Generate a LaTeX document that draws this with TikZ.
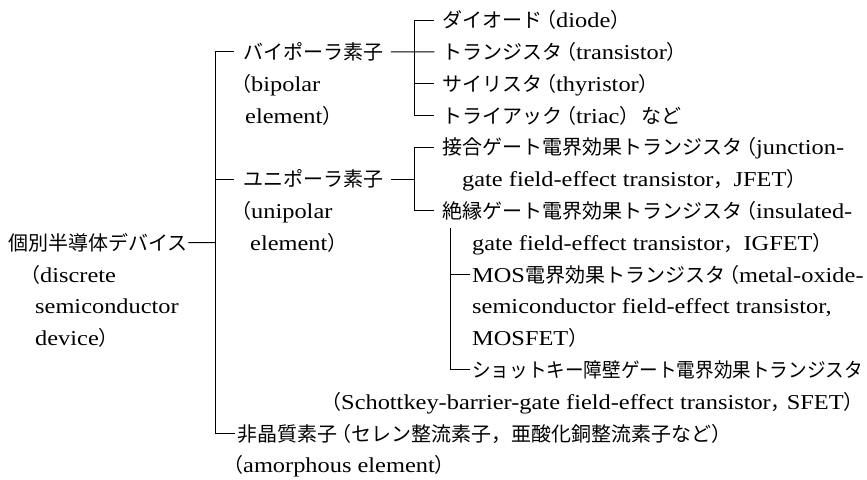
\documentclass[tikz,border=0pt]{standalone}
\usepackage{fontspec}
\setmainfont{Liberation Serif}[Scale=1.06,FakeStretch=1.15]
\newfontfamily\jpf{Noto Sans CJK JP}
\newfontfamily\jpn{Noto Sans CJK JP}[FakeStretch=0.93]
\newcommand\J[1]{{\jpf #1}}
\newcommand\Jn[1]{{\jpn #1}}
\newcommand\lp{{\jpf\kern-0.3em （}}
\newcommand\rpend{{\jpf ）\kern-0.6em}}
% row centre and baseline (pixels from top)
\newcommand\R[1]{\fpeval{20+31.8*(#1)}}
\newcommand\B[1]{\fpeval{27.6+31.8*(#1)}}
\tikzset{
  txt/.style={anchor=base west, inner sep=0pt, font=\fontsize{20pt}{24pt}\selectfont},
  ln/.style={line width=0.9pt, line cap=rect}
}
\begin{document}
\begin{tikzpicture}[x=1pt,y=-1pt]
\useasboundingbox (0,0) rectangle (867,479);
% ---------- left column ----------
\node[txt] (root) at (8,\B{7}) {\J{個別半導体デバイス}};
\node[txt] (rd1) at (20,\B{8}) {\J{（}discrete};
\node[txt] (rd2) at (35,\B{9}) {semiconductor};
\node[txt] (rd3) at (35,\B{10}) {device\J{）}};
% ---------- second column ----------
\node[txt] (bip) at (243,\B{1}) {\J{バイポーラ素子}};
\node[txt] (bip2) at (231,\B{2}) {\J{（}bipolar};
\node[txt] (bip3) at (245,\B{3}) {element\J{）}};
\node[txt] (uni) at (243,\B{5}) {\J{ユニポーラ素子}};
\node[txt] (uni2) at (231,\B{6}) {\J{（}unipolar};
\node[txt] (uni3) at (250,\B{7}) {element\J{）}};
\node[txt] (amo) at (237,\B{13}) {\J{非晶質素子}\lp\J{セレン整流素子，亜酸化銅整流素子など）}};
\node[txt] (amo2) at (223,\B{14}) {\J{（}amorphous element\J{）}};
% ---------- third column ----------
\node[txt] (c0) at (442,\B{0}) {\J{ダイオード}\lp diode\J{）}};
\node[txt] (c1) at (442,\B{1}) {\J{トランジスタ}\lp transistor\J{）}};
\node[txt] (c2) at (442,\B{2}) {\J{サイリスタ}\lp thyristor\J{）}};
\node[txt] (c3) at (442,\B{3}) {\J{トライアック}\lp triac\J{）\hspace{2pt}など}};
\node[txt] (jf1) at (442,\B{4}) {\J{接合ゲート電界効果トランジスタ}\lp junction-};
\node[txt] (jf2) at (462,\B{5}) {gate field-effect transistor\J{，}JFET\J{）}};
\node[txt] (ig1) at (442,\B{6}) {\J{絶縁ゲート電界効果トランジスタ}\lp insulated-};
\node[txt] (ig2) at (472,\B{7}) {gate field-effect transistor\J{，}IGFET\J{）}};
\node[txt] (mos1) at (472,\B{8}) {MOS\J{電界効果トランジスタ}\lp metal-oxide-};
\node[txt] (mos2) at (472,\B{9}) {semiconductor field-effect transistor,};
\node[txt] (mos3) at (472,\B{10}) {MOSFET\J{）}};
\node[txt] (sch1) at (472,\B{11}) {\Jn{ショットキー障壁ゲート電界効果トランジスタ}};
\node[txt] (sch2) at (321,\B{12}) {\J{（}Schottkey-barrier-gate field-effect transistor\J{，\kern-0.2em}SFET\rpend};
% ---------- junction coordinates ----------
\coordinate (m1) at (215,\R{1});
\coordinate (m5) at (215,\R{5});
\coordinate (m7) at (215,\R{7});
\coordinate (m13) at (215,\R{13});
\coordinate (t1) at (234,\R{1});
\coordinate (t5) at (234,\R{5});
\coordinate (t13) at (235,\R{13});
\coordinate (a0) at (414,\R{0});
\coordinate (a2) at (414,\R{2});
\coordinate (a3) at (414,\R{3});
\coordinate (b4) at (414,\R{4});
\coordinate (b5) at (414,\R{5});
\coordinate (b6) at (414,\R{6});
\coordinate (e0) at (434,\R{0});
\coordinate (e1) at (434,\R{1});
\coordinate (e2) at (434,\R{2});
\coordinate (e3) at (434,\R{3});
\coordinate (e4) at (434,\R{4});
\coordinate (e6) at (434,\R{6});
\coordinate (g0) at (450,228);
\coordinate (g8) at (450,\R{8});
\coordinate (g11) at (450,\R{11});
\coordinate (h8) at (470,\R{8});
\coordinate (h11) at (470,\R{11});
% ---------- connectors ----------
\draw[ln] ([shift={(1,-7.6)}]root.base east) -- (m7);
\draw[ln] (t1) -- (m1) -- (m13) -- (t13);
\draw[ln] (m5) -- (t5);
\draw[ln] ([shift={(8,-7.6)}]bip.base east) -- (e1);
\draw[ln] (e0) -- (a0) -- (a3) -- (e3);
\draw[ln] (a2) -- (e2);
\draw[ln] ([shift={(8,-7.6)}]uni.base east) -- (b5);
\draw[ln] (e4) -- (b4) -- (b6) -- (e6);
\draw[ln] (g0) -- (g11) -- (h11);
\draw[ln] (g8) -- (h8);
\end{tikzpicture}
\end{document}
